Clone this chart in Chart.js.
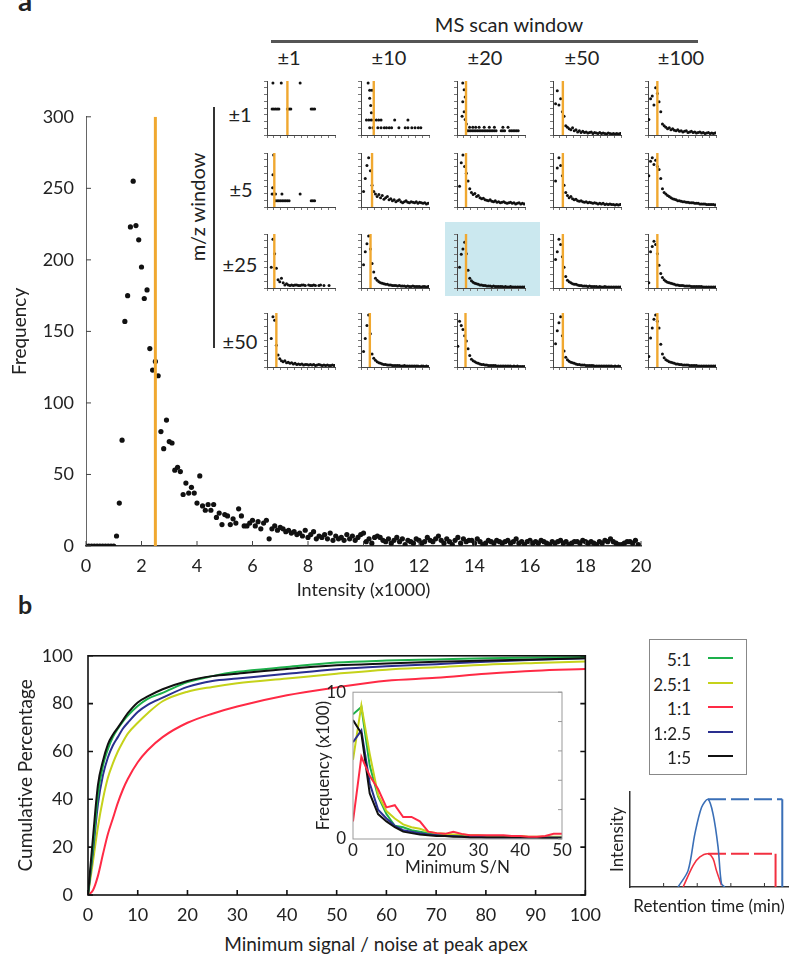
<!DOCTYPE html>
<html lang="en">
<head>
<meta charset="UTF-8">
<title>Intensity threshold and S/N figure</title>
<script src="https://cdn.jsdelivr.net/npm/chart.js@4.4.1/dist/chart.umd.min.js"></script>
<style>
  body { margin: 0; background: #fff; }
  #page { position: relative; width: 800px; height: 966px; overflow: hidden; font-family: Lato, sans-serif; color: #222; }
  canvas { position: absolute; }
  .t { position: absolute; transform: translate(-50%, -50%); white-space: nowrap; line-height: 1; }
  .rot { transform: translate(-50%, -50%) rotate(-90deg); }
  .rule { position: absolute; }
  .legend { position: absolute; left: 649px; top: 639px; width: 96px; height: 134px; border: 1px solid #888; }
  .legend .row { position: absolute; left: 0; width: 96px; height: 20px; font-size: 17px; }
  .legend .row span { position: absolute; right: 55px; top: 1px; }
  .legend .row i { position: absolute; left: 58px; top: 9px; width: 25px; height: 2px; }
</style>
</head>
<body>
<div id="page">
  <div class="t" style="left:25px; top:0px; font-size:28px; font-weight:bold;">a</div>
  <div class="t" style="left:25px; top:604px; font-size:25px; font-weight:bold;">b</div>

  <div class="t" style="left:509px; top:24px; font-size:20px;">MS scan window</div>
  <div class="rule" style="left:271px; top:40px; width:427px; height:3px; background:#555;"></div>
  <div class="t" style="left:289px; top:57px; font-size:20px;">±1</div>
  <div class="t" style="left:389px; top:57px; font-size:20px;">±10</div>
  <div class="t" style="left:485px; top:57px; font-size:20px;">±20</div>
  <div class="t" style="left:582px; top:57px; font-size:20px;">±50</div>
  <div class="t" style="left:681px; top:57px; font-size:20px;">±100</div>

  <div class="rule" style="left:213px; top:107px; width:2px; height:241px; background:#333;"></div>
  <div class="t rot" style="left:197px; top:207px; font-size:20px;">m/z window</div>
  <div class="t" style="left:240px; top:114px; font-size:20px;">±1</div>
  <div class="t" style="left:241px; top:189px; font-size:20px;">±5</div>
  <div class="t" style="left:240px; top:264px; font-size:20px;">±25</div>
  <div class="t" style="left:240px; top:341px; font-size:20px;">±50</div>

  <div class="rule" style="left:445px; top:222px; width:95px; height:74px; background:#cbe8ef;"></div>

  <canvas id="chartA" width="665" height="509" style="left:0px; top:94px;"></canvas>
  <canvas id="chartB" width="610" height="295" style="left:0px; top:630px;"></canvas>
  <canvas id="chartInset" width="269" height="207" style="left:305px; top:675px;"></canvas>
  <canvas id="chartRT" width="200" height="140" style="left:600px; top:780px;"></canvas>

  <div class="t" style="left:376px; top:943px; font-size:19px;">Minimum signal / noise at peak apex</div>

  <div class="legend" id="legend"></div>
</div>

<script>
// ---- panel a: frequency vs intensity (bins of 0.1 x1000) ----
const mainFreq = [
  0, 0, 0, 0, 0, 0, 0, 0, 0, 0, 0, 7, 30, 74, 157, 175, 223, 255, 224, 214,
  195, 173, 179, 138, 123, 129, 119, 80, 68, 88, 73, 72, 53, 55, 52, 36, 44, 37, 41, 37,
  30, 49, 28, 25, 29, 25, 29, 20, 23, 15, 22, 21, 15, 19, 16, 26, 21, 14, 14, 16,
  18, 14, 17, 12, 16, 18, 5, 12, 14, 11, 13, 12, 10, 11, 9, 10, 8, 9, 7, 11,
  6, 8, 10, 5, 7, 6, 8, 5, 9, 4, 7, 5, 6, 4, 8, 5, 7, 4, 6, 8,
  9, 3, 5, 2, 6, 7, 6, 4, 3, 5, 2, 4, 6, 3, 5, 1, 4, 3, 2, 5,
  4, 2, 3, 6, 4, 3, 5, 7, 4, 2, 5, 3, 1, 4, 6, 2, 5, 3, 4, 4,
  2, 5, 3, 1, 2, 4, 3, 2, 4, 3, 2, 3, 4, 2, 3, 5, 2, 3, 1, 3,
  4, 2, 3, 2, 4, 3, 2, 1, 3, 2, 3, 4, 2, 3, 1, 2, 3, 3, 2, 4,
  3, 2, 3, 2, 1, 3, 2, 4, 3, 5, 3, 2, 1, 1, 2, 3, 3, 2, 4, 1,
  0
];
const intensityCut = 2.5;

// mini panels: m/z window rows (±1, ±5, ±25, ±50) x MS scan window cols (±1 .. ±100)
// values are % of each panel's max; pairs are [bin, value], plain arrays are indexed by bin
const mini_r1c1 = [[3.5,100],[8.4,100],[19.5,100],[3,50],[4,50],[5,50],[6,50],[7,50],[12,50],[13,50],[14,50],[26,50],[27,50],[28,50]];
const mini_r1c2 = [[4.2,100],[5.1,86],[6.5,86],[5.1,71],[5.7,57],[6.1,43],[3.2,29],[4.6,29],[6,29],[7.4,29],[9,29],[10.4,29],[11.8,29],[19.8,29],[27.6,29],
  [5.1,14],[7,14],[9.9,14],[11.8,14],[13.7,14],[15,14],[16.6,14],[18,14],[22.3,14],[26,14],[27.6,14],[29.9,14],[31.8,14],[33.7,14],[35.2,14]];
const mini_r1c3 = [[3.4,100],[4.2,87],[4.8,73],[3.4,64],[4.2,45],[3,36],[4.8,30],[5.5,21],[7.4,15],[9.3,15],[11,15],[13,15],[16,15],[19,15],[22,15],[27,15],[30,15],
  [6,8],[7,8],[8,8],[9,8],[10,8],[11,8],[12,8],[13,8],[14,8],[15,8],[16,8],[17,8],[18,8],[19,8],[20,8],[21,8],[22,8],[23,8],[26,8],[27,8],[28,8],[31,8],[32,8],[33,8],[34,8],[35,8],[36,8]];
const mini_r1c4 = [null, 60, 85, 58, 70, 45, 36, 18, 15, 12, 10, 14, 8, 10, 6, 8, 5, 7, 5, 6, 4, 5, 6, 3, 5, 4, 3, 5, 3, 4, 3, 2, 4, 3, 2, 3, 2, 3, 2, 3];
const mini_r1c5 = [30, 70, 75, 58, 91, 80, 64, 45, 21, 18, 15, 12, 14, 10, 12, 9, 8, 10, 7, 8, 6, 7, 8, 5, 6, 7, 5, 6, 4, 5, 6, 4, 5, 3, 4, 5, 3, 4, 3, 4];

const mini_r2c1 = [[3.9,100],[3.5,62],[3.3,37],[3,25],[4,25],[5,25],[8.8,25],[19.5,25],[5,12],[6,12],[7,12],[8,12],[9,12],[10,12],[11,12],[12,12],[13,12],[26,12],[27,12],[28,12]];
const mini_r2c2 = [null, 30, 55, 80, 95, 70, 42, 30, 25, 20, 24, 18, 22, 15, 18, 20, 14, 16, 12, 14, 10, 12, 14, 10, 8, 10, 12, 9, 8, 10, 9, 8, 10, 7, 9, 8, 7, 8, 6, 7];
const mini_r2c3 = [null, 40, 85, 100, 78, 65, 50, 35, 28, 24, 26, 20, 22, 18, 16, 17, 14, 13, 12, 14, 11, 10, 12, 9, 10, 8, 9, 10, 8, 7, 8, 9, 7, 8, 6, 7, 8, 6, 7, 6];
const mini_r2c4 = [null, 50, 75, 95, 80, 60, 42, 28, 22, 18, 20, 16, 14, 15, 12, 11, 12, 10, 9, 10, 8, 9, 8, 7, 8, 7, 6, 7, 6, 7, 5, 6, 5, 6, 5, 5, 4, 5, 4, 5];
const mini_r2c5 = [60, 88, 95, 82, 90, 78, 72, 55, 35, 28, 25, 22, 20, 18, 16, 15, 14, 12, 12, 11, 10, 10, 9, 9, 8, 8, 8, 7, 7, 7, 6, 6, 6, 6, 5, 5, 5, 5, 5, 4];

const mini_r3c1 = [null, null, 40, 94, 66, 38, 16, 12, 19, 10, 6, 8, 6, 5, 6, 5, 6, 6, 5, 5, 6, 6, 5, null, 6, 5, 5, 6, 5, null, 5, 6, null, 5, null, null, 5, null, null, null];
const mini_r3c2 = [null, 45, 70, 85, 100, 75, 47, 31, 19, 15, 12, 10, 9, 8, 7, 7, 6, 6, 5, 5, 5, 4, 5, 4, 4, 4, 3, 4, 3, 3, 4, 3, 3, 3, 3, 2, 3, 3, 2, 3];
const mini_r3c3 = [null, 40, 65, 75, 88, 66, 34, 19, 14, 11, 9, 8, 7, 6, 6, 5, 5, 4, 4, 4, 3, 4, 3, 3, 3, 3, 3, 2, 3, 2, 2, 3, 2, 2, 2, 2, 2, 2, 2, 2];
const mini_r3c4 = [null, 55, 70, 94, 84, 60, 40, 22, 15, 12, 10, 8, 7, 7, 6, 5, 5, 4, 4, 4, 3, 4, 3, 3, 3, 3, 2, 3, 2, 2, 3, 2, 2, 2, 2, 2, 2, 2, 2, 2];
const mini_r3c5 = [10, 70, 80, 90, 84, 66, 44, 28, 20, 16, 13, 11, 10, 9, 8, 7, 6, 6, 5, 5, 5, 4, 4, 4, 4, 3, 3, 3, 3, 3, 3, 3, 2, 2, 2, 2, 2, 2, 2, 2];

const mini_r4c1 = [null, null, 55, 97, 90, 42, 23, 16, 12, 10, 12, 8, 9, 7, 8, 6, 7, 5, 6, 5, 6, 4, 5, 5, 4, 5, 4, 5, 3, 4, 5, 4, 3, 4, 3, 4, 3, 3, 4, 3];
const mini_r4c2 = [null, 30, 55, 80, 100, 64, 25, 17, 13, 10, 8, 7, 6, 5, 5, 4, 4, 4, 3, 3, 3, 3, 3, 2, 2, 3, 2, 2, 2, 2, 2, 2, 2, 2, 1, 2, 2, 1, 2, 1];
const mini_r4c3 = [40, 88, 80, 72, 60, 50, 35, 22, 15, 12, 10, 8, 7, 6, 5, 5, 4, 4, 3, 3, 3, 3, 3, 2, 2, 2, 2, 2, 2, 2, 2, 2, 1, 2, 1, 2, 1, 1, 1, 1];
const mini_r4c4 = [null, 45, 70, 85, 97, 60, 31, 19, 14, 11, 9, 8, 7, 6, 5, 5, 4, 4, 4, 3, 3, 3, 3, 3, 2, 2, 2, 2, 2, 2, 2, 2, 2, 2, 2, 1, 2, 1, 2, 1];
const mini_r4c5 = [20, 56, 75, 92, 100, 88, 75, 44, 25, 18, 14, 12, 10, 9, 8, 7, 6, 6, 5, 5, 4, 4, 4, 4, 3, 3, 3, 3, 3, 2, 2, 2, 2, 2, 2, 2, 2, 2, 2, 2];

const miniOrange = [
  [12, 7.5, 5.3, 5.8, 5.5],
  [4.3, 6.5, 5.3, 5.8, 5.5],
  [4.3, 5.6, 5.3, 5.8, 5.5],
  [5.5, 5.2, 5.0, 5.8, 5.5]
];

// ---- panel b: cumulative percentage vs min S/N ----
const snX = [0, 1, 2, 3, 4, 5, 6, 7, 8, 10, 12, 15, 20, 25, 30, 40, 50, 60, 70, 80, 90, 100];
const cum_5_1   = [0, 20, 42, 54, 61, 66, 69.5, 72.5, 75, 79, 82, 84.5, 89, 91.5, 93.3, 95.3, 97.2, 98, 98.5, 99, 99.3, 99.5];
const cum_2p5_1 = [0, 14, 28.5, 40, 49, 55, 60, 64, 67.5, 72, 76, 81, 85, 87, 88.5, 90.5, 92.5, 94.2, 95.2, 96.3, 97, 97.6];
const cum_1_1   = [0, 2, 8, 17, 25.5, 32, 38.5, 44, 48.5, 55.5, 60.5, 66, 72, 75.8, 78.8, 83.5, 86.8, 89.6, 90.8, 92.5, 93.8, 94.5];
const cum_1_2p5 = [0, 18, 38, 50, 57.5, 62.5, 66, 69.5, 72, 76.5, 79.5, 82.5, 87, 89.5, 90.5, 92.5, 94.4, 95.6, 96.5, 97.5, 98.3, 99];
const cum_1_5   = [0, 24, 46, 56, 63, 67, 70, 73, 76, 80.5, 83, 86, 89.5, 91.5, 92.5, 94.5, 96, 96.8, 97.5, 98, 98.5, 99];

// inset: frequency (x100) vs min S/N
const insetX = [0, 2, 4, 6, 8, 10, 12, 14, 16, 18, 20, 22, 24, 26, 28, 30, 32, 34, 36, 38, 40, 42, 44, 46, 48, 50];
const freq_5_1   = [8.5, 9.0, 5.0, 2.9, 1.7, 0.9, 0.8, 0.6, 0.5, 0.4, 0.3, 0.3, 0.25, 0.2, 0.2, 0.2, 0.2, 0.15, 0.15, 0.15, 0.15, 0.1, 0.1, 0.1, 0.1, 0.1];
const freq_2p5_1 = [5.4, 9.1, 5.8, 3.0, 1.9, 1.4, 1.0, 0.8, 0.7, 0.5, 0.4, 0.35, 0.3, 0.3, 0.25, 0.25, 0.2, 0.2, 0.2, 0.2, 0.2, 0.15, 0.15, 0.15, 0.15, 0.15];
const freq_1_1   = [1.2, 5.6, 4.3, 3.4, 2.15, 2.3, 1.5, 1.5, 1.2, 0.5, 0.4, 0.35, 0.5, 0.35, 0.25, 0.25, 0.25, 0.25, 0.25, 0.2, 0.2, 0.15, 0.15, 0.2, 0.35, 0.35];
const freq_1_2p5 = [6.6, 7.4, 3.8, 2.0, 1.4, 0.9, 0.6, 0.5, 0.4, 0.3, 0.25, 0.2, 0.2, 0.15, 0.15, 0.15, 0.1, 0.1, 0.1, 0.1, 0.1, 0.1, 0.1, 0.1, 0.1, 0.1];
const freq_1_5   = [8.1, 7.2, 3.1, 1.7, 1.2, 0.8, 0.5, 0.4, 0.3, 0.25, 0.2, 0.2, 0.15, 0.15, 0.1, 0.1, 0.1, 0.1, 0.1, 0.1, 0.1, 0.1, 0.1, 0.05, 0.05, 0.05];

const ratioLabels = ['5:1', '2.5:1', '1:1', '1:2.5', '1:5'];
const ratioColors = ['#1db04b', '#c5d21a', '#ff2a45', '#2a2f8f', '#111111'];

// schematic: peak intensity vs retention time
const rtBlue  = [[1.43, 0], [1.73, 17.5], [1.93, 56], [2.13, 84], [2.32, 92.3], [2.47, 77], [2.62, 42], [2.72, 3.5], [2.82, 0]];
const rtRed   = [[1.58, 0], [1.88, 22.8], [2.08, 31.6], [2.32, 35], [2.47, 29.8], [2.57, 17.5], [2.72, 1.8]];
const rtBlueEnd = 4.53;
const rtRedEnd = 4.33;

const ORANGE = '#f0a830';

Chart.defaults.font.family = "Lato, 'DejaVu Sans', sans-serif";
Chart.defaults.color = '#222';
Chart.defaults.animation = false;
Chart.defaults.responsive = false;
Chart.defaults.devicePixelRatio = 1;
Chart.defaults.plugins.legend.display = false;
Chart.defaults.plugins.tooltip.enabled = false;

// short tick marks pointing into the plot, plus optional frame
const innerTicks = {
  id: 'innerTicks',
  afterDatasetsDraw(chart, args, o) {
    if (!o || !o.sides) return;
    const ctx = chart.ctx, a = chart.chartArea;
    ctx.save();
    ctx.strokeStyle = o.color || '#222';
    ctx.lineWidth = o.width || 1;
    if (o.frame) ctx.strokeRect(a.left, a.top, a.right - a.left, a.bottom - a.top);
    ctx.beginPath();
    o.sides.forEach(side => {
      const vert = side === 'left' || side === 'right';
      const sc = vert ? chart.scales.y : chart.scales.x;
      sc.ticks.forEach(t => {
        const p = sc.getPixelForValue(t.value);
        if (side === 'left') { ctx.moveTo(a.left, p); ctx.lineTo(a.left + o.len, p); }
        if (side === 'right') { ctx.moveTo(a.right, p); ctx.lineTo(a.right - o.len, p); }
        if (side === 'bottom') { ctx.moveTo(p, a.bottom); ctx.lineTo(p, a.bottom - o.len); }
        if (side === 'top') { ctx.moveTo(p, a.top); ctx.lineTo(p, a.top + o.len); }
      });
    });
    ctx.stroke();
    ctx.restore();
  }
};
Chart.register(innerTicks);

// panel a main scatter
new Chart(document.getElementById('chartA'), {
  type: 'scatter',
  data: {
    datasets: [
      { type: 'line', data: [{ x: intensityCut, y: 0 }, { x: intensityCut, y: 300 }], borderColor: ORANGE, borderWidth: 3, pointRadius: 0 },
      { data: mainFreq.map((v, i) => ({ x: i / 10, y: v })), pointRadius: 2.6, backgroundColor: '#111', borderWidth: 0 }
    ]
  },
  options: {
    layout: { padding: { top: 14, right: 24, left: 0, bottom: 0 } },
    scales: {
      x: {
        type: 'linear', min: 0, max: 20,
        ticks: { stepSize: 2, font: { size: 18 }, padding: 9, maxRotation: 0 },
        grid: { display: false, drawTicks: false },
        border: { color: '#333', width: 1.5 },
        title: { display: true, text: 'Intensity (x1000)', font: { size: 18 }, padding: { top: 0, bottom: 2 } },
        afterFit: s => { s.height = 57; }
      },
      y: {
        min: 0, max: 300,
        ticks: { stepSize: 50, font: { size: 18 }, padding: 12 },
        grid: { display: false, drawTicks: false },
        border: { color: '#666', width: 1 },
        title: { display: true, text: 'Frequency', font: { size: 19 }, padding: { top: 8, bottom: 0 } },
        afterFit: s => { s.width = 86; }
      }
    },
    plugins: { innerTicks: { sides: ['left', 'bottom'], len: 5, color: '#444', width: 1 } }
  }
});

// the 4 x 5 grid of small panels
const miniData = [
  [mini_r1c1, mini_r1c2, mini_r1c3, mini_r1c4, mini_r1c5],
  [mini_r2c1, mini_r2c2, mini_r2c3, mini_r2c4, mini_r2c5],
  [mini_r3c1, mini_r3c2, mini_r3c3, mini_r3c4, mini_r3c5],
  [mini_r4c1, mini_r4c2, mini_r4c3, mini_r4c4, mini_r4c5]
];
const miniLeft = [267, 361, 457, 553, 648];
const miniTop = [80, 152, 233, 312];
const page = document.getElementById('page');

function toPoints(arr) {
  if (Array.isArray(arr[0])) return arr.map(p => ({ x: p[0], y: p[1] }));
  const pts = [];
  arr.forEach((v, i) => { if (v !== null) pts.push({ x: i + 0.5, y: v }); });
  return pts;
}

function miniChart(arr, cut, left, top) {
  const cv = document.createElement('canvas');
  cv.width = 69 + 6 + 3;
  cv.height = 55 + 3 + 5;
  cv.style.left = (left - 6) + 'px';
  cv.style.top = (top - 3) + 'px';
  page.appendChild(cv);
  new Chart(cv, {
    type: 'scatter',
    data: {
      datasets: [
        { type: 'line', data: [{ x: cut, y: 0 }, { x: cut, y: 104 }], borderColor: ORANGE, borderWidth: 2.4, pointRadius: 0 },
        { data: toPoints(arr), pointRadius: 1.5, backgroundColor: '#111', borderWidth: 0 }
      ]
    },
    options: {
      layout: { padding: { top: 3, right: 3, left: 0, bottom: 0 } },
      scales: {
        x: {
          type: 'linear', min: 0, max: 40,
          ticks: { display: false, stepSize: 4 },
          grid: { drawOnChartArea: false, tickLength: 3, color: '#777' },
          border: { color: '#444', width: 1 },
          afterFit: s => { s.height = 5; }
        },
        y: {
          min: 0, max: 104,
          ticks: { display: false, stepSize: 13 },
          grid: { drawOnChartArea: false, tickLength: 3, color: '#777' },
          border: { color: '#444', width: 1 },
          afterFit: s => { s.width = 6; }
        }
      }
    }
  });
}

miniData.forEach((row, r) => row.forEach((arr, c) => miniChart(arr, miniOrange[r][c], miniLeft[c], miniTop[r])));

// panel b main cumulative chart
const cumSeries = [cum_1_5, cum_5_1, cum_1_2p5, cum_2p5_1, cum_1_1];
const cumIdx = [4, 0, 3, 1, 2];
new Chart(document.getElementById('chartB'), {
  type: 'line',
  data: {
    datasets: cumSeries.map((s, k) => ({
      label: ratioLabels[cumIdx[k]],
      data: s.map((v, i) => ({ x: snX[i], y: v })),
      borderColor: ratioColors[cumIdx[k]],
      borderWidth: 2,
      pointRadius: 0,
      cubicInterpolationMode: 'monotone'
    }))
  },
  options: {
    layout: { padding: { top: 13, right: 22, left: 0, bottom: 0 } },
    scales: {
      x: {
        type: 'linear', min: 0, max: 100,
        ticks: { stepSize: 10, font: { size: 18 }, padding: 9, maxRotation: 0 },
        grid: { display: false, drawTicks: false },
        border: { display: false },
        afterFit: s => { s.height = 30; }
      },
      y: {
        min: 0, max: 100,
        ticks: { stepSize: 10, font: { size: 18 }, padding: 15, callback: v => (v % 20 === 0 ? v : '') },
        grid: { display: false, drawTicks: false },
        border: { display: false },
        title: { display: true, text: 'Cumulative Percentage', font: { size: 19 }, padding: { top: 14, bottom: 0 } },
        afterFit: s => { s.width = 88; }
      }
    },
    plugins: { innerTicks: { sides: ['left', 'right', 'bottom'], len: 5, frame: true, color: '#111', width: 1.6 } }
  }
});

// inset frequency chart
const insetSeries = [freq_1_1, freq_1_5, freq_1_2p5, freq_2p5_1, freq_5_1];
const insetIdx = [2, 4, 3, 1, 0];
new Chart(document.getElementById('chartInset'), {
  type: 'line',
  data: {
    datasets: insetSeries.map((s, k) => ({
      label: ratioLabels[insetIdx[k]],
      data: s.map((v, i) => ({ x: insetX[i], y: v })),
      borderColor: ratioColors[insetIdx[k]],
      borderWidth: 2,
      pointRadius: 0
    }))
  },
  options: {
    layout: { padding: { top: 12, right: 12, left: 0, bottom: 0 } },
    scales: {
      x: {
        type: 'linear', min: 0, max: 50,
        ticks: { stepSize: 10, font: { size: 17 }, padding: 1, maxRotation: 0 },
        grid: { display: false, drawTicks: false },
        border: { display: false },
        title: { display: true, text: 'Minimum S/N', font: { size: 17 }, padding: { top: 0, bottom: 4 } },
        afterFit: s => { s.height = 43; }
      },
      y: {
        min: 0, max: 10,
        ticks: { stepSize: 1, font: { size: 17 }, padding: 7, callback: v => (v % 5 === 0 ? v : '') },
        grid: { display: false, drawTicks: false },
        border: { display: false },
        title: { display: true, text: 'Frequency (x100)', font: { size: 17 }, padding: { top: 8, bottom: 0 } },
        afterFit: s => { s.width = 48; }
      }
    },
    plugins: { innerTicks: { sides: ['right'], len: 4, frame: true, color: '#999', width: 1 } }
  }
});

// legend box
const legend = document.getElementById('legend');
ratioLabels.forEach((lab, i) => {
  const row = document.createElement('div');
  row.className = 'row';
  row.style.top = (8 + i * 24.5) + 'px';
  row.innerHTML = '<span>' + lab + '</span><i style="background:' + ratioColors[i] + '"></i>';
  legend.appendChild(row);
});

// retention-time schematic
const BLUE = '#3a6fb7', RED = '#f23040';
const pts = arr => arr.map(p => ({ x: p[0], y: p[1] }));
const blueTop = rtBlue[4][1], redTop = rtRed[3][1];
new Chart(document.getElementById('chartRT'), {
  type: 'line',
  data: {
    datasets: [
      { data: pts(rtBlue), borderColor: BLUE, borderWidth: 1.6, pointRadius: 0, tension: 0.3 },
      { data: [{ x: rtBlue[4][0], y: blueTop }, { x: rtBlueEnd, y: blueTop }], borderColor: BLUE, borderWidth: 2, borderDash: [18, 5], pointRadius: 0 },
      { data: [{ x: rtBlueEnd, y: blueTop }, { x: rtBlueEnd, y: 0 }], borderColor: BLUE, borderWidth: 2, pointRadius: 0 },
      { data: pts(rtRed), borderColor: RED, borderWidth: 1.6, pointRadius: 0, tension: 0.3 },
      { data: [{ x: rtRed[3][0], y: redTop }, { x: rtRedEnd, y: redTop }], borderColor: RED, borderWidth: 2, borderDash: [18, 5], pointRadius: 0 },
      { data: [{ x: rtRedEnd, y: redTop }, { x: rtRedEnd, y: 0 }], borderColor: RED, borderWidth: 2, pointRadius: 0 }
    ]
  },
  options: {
    layout: { padding: { top: 12, right: 12, left: 0, bottom: 0 } },
    scales: {
      x: {
        type: 'linear', min: 0, max: 4.7,
        afterBuildTicks: s => { s.ticks = [1, 2, 3, 4].map(v => ({ value: v })); },
        ticks: { display: false },
        grid: { display: false, drawTicks: false },
        border: { color: '#333', width: 1.5 },
        title: { display: true, text: 'Retention time (min)', font: { size: 17 }, padding: { top: 0, bottom: 3 } },
        afterFit: s => { s.height = 33; }
      },
      y: {
        min: 0, max: 100,
        ticks: { display: false },
        grid: { display: false, drawTicks: false },
        border: { color: '#333', width: 1.5 },
        title: { display: true, text: 'Intensity', font: { size: 17 }, padding: { top: 7, bottom: 0 } },
        afterFit: s => { s.width = 30; }
      }
    },
    plugins: { innerTicks: { sides: ['bottom'], len: 4, color: '#333', width: 1 } }
  }
});
</script>
</body>
</html>
